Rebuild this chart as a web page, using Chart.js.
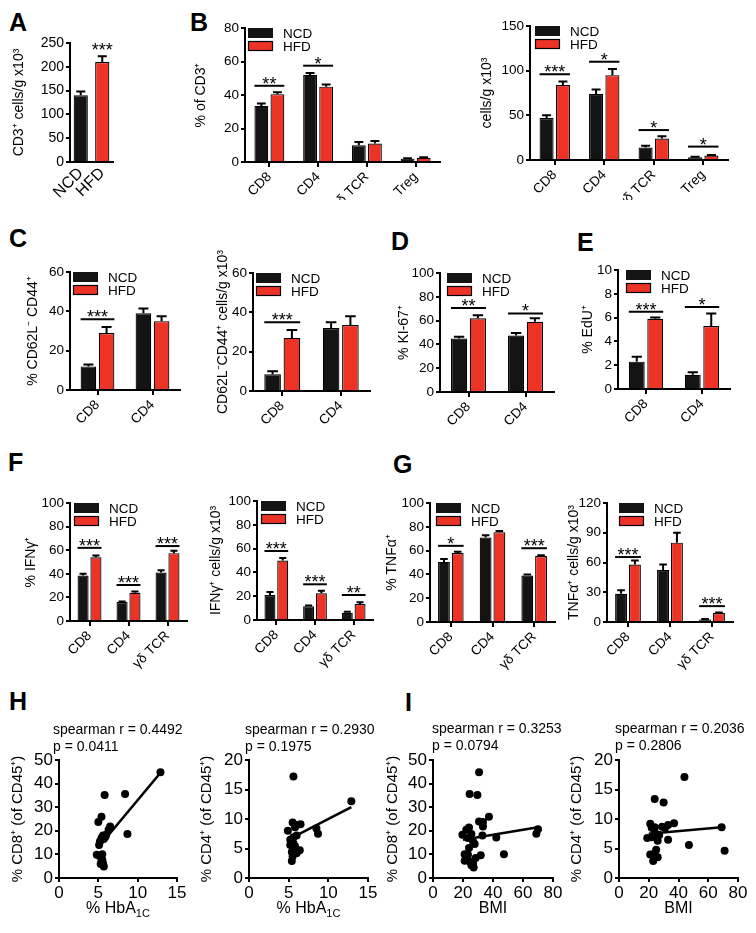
<!DOCTYPE html>
<html>
<head>
<meta charset="utf-8">
<script src="https://cdn.jsdelivr.net/npm/chart.js@4.4.0/dist/chart.umd.min.js"></script>
<style>
body { margin: 0; background: #fff; width: 756px; height: 933px; position: relative; overflow: hidden;
       font-family: "Liberation Sans", Arial, Helvetica, sans-serif; color: #000; }
canvas { position: absolute; }
.lbl { position: absolute; font-weight: bold; font-size: 25px; line-height: 1; }
.note { position: absolute; font-size: 14px; line-height: 17px; white-space: nowrap; }
</style>
</head>
<body>
<div class="lbl" style="left:9px;top:10px">A</div>
<div class="lbl" style="left:190px;top:10px">B</div>
<div class="lbl" style="left:9px;top:226px">C</div>
<div class="lbl" style="left:391px;top:229px">D</div>
<div class="lbl" style="left:577px;top:230px">E</div>
<div class="lbl" style="left:8px;top:450px">F</div>
<div class="lbl" style="left:393px;top:452px">G</div>
<div class="lbl" style="left:9px;top:689px">H</div>
<div class="lbl" style="left:405px;top:690px">I</div>

<script>
const FONT = '"Liberation Sans", Arial, Helvetica, sans-serif';
const BLACK = '#141414';
const RED = '#ec3326';

// categories
const groups = ["NCD", "HFD"];
const cells4 = ["CD8", "CD4", "γδ TCR", "Treg"];
const cells3 = ["CD8", "CD4", "γδ TCR"];
const cells2 = ["CD8", "CD4"];

// A: CD3+ cells/g x10^3
const aValues = [140, 210];
const aErr = [8, 12];
const aSig = [[1, 232, "***"]];

// B: % of CD3+ / cells per g
const bPctNcd = [33.5, 52, 10, 2];
const bPctNcdErr = [1.5, 1.2, 2, 0.3];
const bPctHfd = [40.5, 45, 11, 2.5];
const bPctHfdErr = [1.2, 1.3, 1.5, 0.4];
const bPctSig = [[0, 45.5, "**"], [1, 57.5, "*"]];

const bNumNcd = [47, 74, 14, 3];
const bNumNcdErr = [3, 5, 2, 0.5];
const bNumHfd = [84, 95, 24, 5];
const bNumHfdErr = [4, 7, 2.5, 0.6];
const bNumSig = [[0, 96, "***"], [1, 110, "*"], [2, 33.5, "*"], [3, 15, "*"]];

// C: CD62L- CD44+
const cPctNcd = [12, 39];
const cPctNcdErr = [1, 2.5];
const cPctHfd = [29, 35];
const cPctHfdErr = [3, 2.5];
const cPctSig = [[0, 36, "***"]];

const cNumNcd = [8.5, 32];
const cNumNcdErr = [1.5, 3];
const cNumHfd = [27, 33.5];
const cNumHfdErr = [4, 4.5];
const cNumSig = [[0, 35, "***"]];

// D: KI-67
const dNcd = [45, 47.5];
const dNcdErr = [1.5, 2];
const dHfd = [62, 59];
const dHfdErr = [2.5, 3];
const dSig = [[0, 70.5, "**"], [1, 66, "*"]];

// E: EdU
const eNcd = [2.3, 1.2];
const eNcdErr = [0.4, 0.2];
const eHfd = [5.9, 5.3];
const eHfdErr = [0.1, 1.05];
const eSig = [[0, 6.5, "***"], [1, 6.9, "*"]];

// F: IFNγ
const fPctNcd = [38.5, 16, 41];
const fPctNcdErr = [1.5, 0.6, 2];
const fPctHfd = [54, 24, 57.5];
const fPctHfdErr = [1.5, 1, 2];
const fPctSig = [[0, 62, "***"], [1, 30.5, "***"], [2, 63.5, "***"]];

const fNumNcd = [21, 11.5, 6];
const fNumNcdErr = [2.5, 0.6, 1];
const fNumHfd = [50, 22.5, 13.5];
const fNumHfdErr = [2, 2, 1.5];
const fNumSig = [[0, 58, "***"], [1, 30, "***"], [2, 21, "**"]];

// G: TNFα
const gPctNcd = [50.5, 71, 39];
const gPctNcdErr = [2.5, 2, 1];
const gPctHfd = [58, 75.5, 55.5];
const gPctHfdErr = [1, 1, 0.6];
const gPctSig = [[0, 64, "*"], [2, 62, "***"]];

const gNumNcd = [28.5, 52.5, 2.5];
const gNumNcdErr = [3.5, 5.5, 0.5];
const gNumHfd = [58, 80, 9];
const gNumHfdErr = [4, 10, 0.6];
const gNumSig = [[0, 65.5, "***"], [2, 16, "***"]];

// H: HbA1c vs % CD8 / % CD4
const hCd8 = [[12.9, 44.8], [5.8, 35.2], [8.4, 35.6], [5.4, 26], [5.0, 23.7], [6.5, 21.8], [6.3, 20.4],
  [8.7, 18.6], [5.6, 18], [6.0, 18.3], [5.4, 17], [5.2, 15.5], [5.1, 14], [4.8, 9.9], [5.2, 9.2],
  [5.5, 10.1], [5.4, 7], [5.6, 6.3], [5.3, 5.9], [5.7, 4.9], [5.5, 7.7], [5.9, 17.5], [5.7, 16.5]];
const hCd8Fit = [[4.9, 12.6], [12.9, 44.6]];
const hCd8Stats = ["0.4492", "0.0411"];

const hCd4 = [[5.6, 17.2], [12.9, 13], [5.5, 9.4], [6.0, 9.0], [6.5, 9.1], [4.9, 8.0], [8.5, 8.4],
  [8.7, 7.5], [6.0, 7.2], [5.6, 6.9], [5.2, 6.5], [5.6, 5.9], [5.2, 5.6], [5.8, 5.4], [6.4, 4.7],
  [5.4, 4.4], [6.0, 4.2], [5.5, 3.7], [5.4, 2.9], [5.8, 8.6], [5.3, 6.2]];
const hCd4Fit = [[5.5, 6.9], [12.9, 12.0]];
const hCd4Stats = ["0.2930", "0.1975"];

// I: BMI vs % CD8 / % CD4
const iCd8 = [[30.7, 44.8], [24.4, 35.6], [29.6, 35.2], [37.3, 26], [30.7, 23.9], [33.3, 23.7],
  [33.3, 21.8], [24, 21.4], [22.2, 20.4], [70, 20.7], [68.9, 18.7], [19.6, 18.3], [25.6, 18.6],
  [32.9, 18], [42.2, 17.2], [23.3, 16.9], [26.7, 15.5], [27.8, 14.4], [24, 12.7], [21.1, 10.1],
  [23.3, 9.9], [31.8, 9.6], [47.3, 10.1], [21.1, 7.3], [24.4, 7], [26.7, 6.3], [25.6, 5.4],
  [27.1, 4.5], [28.4, 8.5]];
const iCd8Fit = [[20, 16.2], [71, 21.6]];
const iCd8Stats = ["0.3253", "0.0794"];

const iCd4 = [[44, 17.1], [24, 13.4], [30, 12.8], [21, 9.2], [24, 8.6], [37, 9.3], [33, 9.0],
  [29, 8.7], [31, 8.5], [69, 8.6], [19, 6.8], [22, 6.9], [25, 7.2], [27, 7.3], [24, 7.8], [26, 6.3],
  [33, 6.5], [47, 5.6], [71, 4.6], [21, 4.0], [24, 4.2], [25, 4.8], [26, 3.5], [23, 2.9], [22, 8.5]];
const iCd4Fit = [[20, 7.5], [69, 8.6]];
const iCd4Stats = ["0.2036", "0.2806"];

Chart.defaults.font.family = FONT;
Chart.defaults.color = '#000';

// canvas placed so that the plot area lands on box = [left, top, right, bottom]
function place(box, tx, titleSize, hx, padTop, padRight) {
  const left = Math.round(tx - titleSize * 0.6);
  const top = box[1] - padTop;
  const w = Math.round(box[2] - left + padRight);
  const h = Math.round(box[3] - box[1] + padTop + hx);
  const c = document.createElement('canvas');
  c.width = w; c.height = h;
  c.style.left = left + 'px'; c.style.top = top + 'px';
  c.style.width = w + 'px'; c.style.height = h + 'px';
  document.body.appendChild(c);
  return { canvas: c, wy: box[0] - left };
}

function yAxis(wy, max, step, title, tickSize, titleSize) {
  return {
    min: 0, max: max,
    ticks: { stepSize: step, color: '#000', font: { size: tickSize }, padding: 2 },
    grid: { drawOnChartArea: false, drawTicks: true, tickLength: 4, color: '#000', lineWidth: 2 },
    border: { display: true, color: '#000', width: 2 },
    title: { display: true, text: title, color: '#000', font: { size: titleSize }, padding: 0 },
    afterFit(s) { s.width = wy; s.paddingTop = 0; s.paddingBottom = 0; }
  };
}

function barExtras(s) {
  return {
    id: 'barExtras',
    afterDatasetsDraw(chart) {
      const ctx = chart.ctx, y = chart.scales.y;
      ctx.save();
      ctx.strokeStyle = '#000'; ctx.fillStyle = '#000'; ctx.lineWidth = 2;
      // SEM bars, upward only
      s.sets.forEach((d, di) => {
        chart.getDatasetMeta(di).data.forEach((bar, i) => {
          const top = y.getPixelForValue(d.data[i] + d.err[i]);
          const half = bar.width * 0.32;
          ctx.beginPath();
          ctx.moveTo(bar.x, bar.y); ctx.lineTo(bar.x, top);
          ctx.moveTo(bar.x - half, top); ctx.lineTo(bar.x + half, top);
          ctx.stroke();
        });
      });
      // significance
      const last = s.sets.length - 1;
      s.sig.forEach(([i, v, txt]) => {
        const b0 = chart.getDatasetMeta(0).data[i];
        const b1 = chart.getDatasetMeta(last).data[i];
        const py = y.getPixelForValue(v);
        const xl = b0.x - b0.width / 2, xr = b1.x + b1.width / 2;
        if (s.lines !== false) {
          ctx.beginPath(); ctx.moveTo(xl, py); ctx.lineTo(xr, py); ctx.stroke();
        }
        ctx.font = '18px ' + FONT;
        ctx.textAlign = 'center'; ctx.textBaseline = 'alphabetic';
        ctx.fillText(txt, (xl + xr) / 2, py + 4);
      });
      // legend in the plot corner
      if (s.legendX != null) {
        const { left, top } = chart.chartArea;
        const lx = left + s.legendX;
        ctx.fillStyle = BLACK; ctx.fillRect(lx, top, 25, 10);
        ctx.fillStyle = RED; ctx.fillRect(lx, top + 13, 25, 10);
        ctx.lineWidth = 1.2; ctx.strokeRect(lx + 0.5, top + 13.5, 24, 9);
        ctx.fillStyle = '#000'; ctx.font = '13.5px ' + FONT;
        ctx.textAlign = 'left';
        ctx.fillText(groups[0], lx + 35, top + 10);
        ctx.fillText(groups[1], lx + 35, top + 23);
      }
      ctx.restore();
    }
  };
}

function barChart(s) {
  const hx = s.hx || 45;
  const padTop = 50;
  const { canvas, wy } = place(s.box, s.tx, 14, hx, padTop, 8);
  const datasets = s.sets.map(d => ({
    data: d.data,
    backgroundColor: d.color,
    borderColor: '#000',
    borderWidth: 1.2,
    barPercentage: s.barPct || 0.86,
    categoryPercentage: s.catPct || 0.66
  }));
  new Chart(canvas, {
    type: 'bar',
    data: { labels: s.cats, datasets: datasets },
    options: {
      responsive: false, animation: false, devicePixelRatio: 1,
      layout: { padding: { top: padTop, right: 8, left: 0, bottom: 0 } },
      plugins: { legend: { display: false }, tooltip: { enabled: false } },
      scales: {
        x: {
          ticks: { color: '#000', font: { size: s.catSize || 13.5 }, minRotation: 45, maxRotation: 45, autoSkip: false, padding: 2 },
          grid: { drawOnChartArea: false, offset: false, drawTicks: !s.noTicks, tickLength: 5, color: '#000', lineWidth: 2 },
          border: { display: true, color: '#000', width: 2 },
          afterFit(sc) { sc.height = hx; sc.paddingLeft = 0; sc.paddingRight = 0; }
        },
        y: yAxis(wy, s.yMax, s.step, s.title, s.tickSize || 13.5, 14)
      }
    },
    plugins: [barExtras(s)]
  });
}

function xTitle(text, sub) {
  return {
    id: 'xTitle',
    afterDraw(chart) {
      const ctx = chart.ctx, a = chart.chartArea;
      ctx.save();
      ctx.fillStyle = '#000'; ctx.textBaseline = 'alphabetic'; ctx.textAlign = 'left';
      ctx.font = '16px ' + FONT;
      const w1 = ctx.measureText(text).width;
      let w2 = 0;
      if (sub) { ctx.font = '11px ' + FONT; w2 = ctx.measureText(sub).width; }
      const x = (a.left + a.right) / 2 - (w1 + w2) / 2, yb = a.bottom + 35;
      ctx.font = '16px ' + FONT; ctx.fillText(text, x, yb);
      if (sub) { ctx.font = '11px ' + FONT; ctx.fillText(sub, x + w1, yb + 4); }
      ctx.restore();
    }
  };
}

function scatterChart(s) {
  const { canvas, wy } = place(s.box, s.tx, 15, 45, 14, 12);
  new Chart(canvas, {
    type: 'scatter',
    data: {
      datasets: [
        { data: s.points.map(p => ({ x: p[0], y: p[1] })), backgroundColor: '#000', borderColor: '#000',
          pointRadius: 4, borderWidth: 0 },
        { type: 'line', data: s.fit.map(p => ({ x: p[0], y: p[1] })), borderColor: '#000', borderWidth: 2.6,
          pointRadius: 0, showLine: true, fill: false }
      ]
    },
    options: {
      responsive: false, animation: false, devicePixelRatio: 1,
      layout: { padding: { top: 14, right: 12, left: 0, bottom: 0 } },
      plugins: { legend: { display: false }, tooltip: { enabled: false } },
      scales: {
        x: {
          type: 'linear', min: 0, max: s.xMax,
          ticks: { stepSize: s.xStep, color: '#000', font: { size: 17 }, padding: 1, maxRotation: 0 },
          grid: { drawOnChartArea: false, tickLength: 4, color: '#000', lineWidth: 2 },
          border: { display: true, color: '#000', width: 2 },
          afterFit(sc) { sc.height = 45; sc.paddingLeft = 0; sc.paddingRight = 0; }
        },
        y: yAxis(wy, s.yMax, s.yStep, s.title, 17, 15)
      }
    },
    plugins: [xTitle(s.xText, s.xSub)]
  });
  const n = document.createElement('div');
  n.className = 'note';
  n.style.left = s.note[0] + 'px'; n.style.top = s.note[1] + 'px';
  n.innerHTML = 'spearman r = ' + s.stats[0] + '<br>p = ' + s.stats[1];
  document.body.appendChild(n);
}

// A
barChart({ box: [70, 43, 113, 162], tx: 19, title: 'CD3⁺ cells/g x10³', cats: groups,
  sets: [{ data: aValues, err: aErr, color: [BLACK, RED] }], catSize: 16, tickSize: 14,
  catPct: 1, barPct: 0.66, yMax: 250, step: 50, sig: aSig, lines: false, noTicks: true });

// B
barChart({ box: [245, 28, 440, 162], tx: 201, hx: 38, title: '% of CD3⁺', cats: cells4,
  sets: [{ data: bPctNcd, err: bPctNcdErr, color: BLACK }, { data: bPctHfd, err: bPctHfdErr, color: RED }],
  yMax: 80, step: 20, sig: bPctSig, legendX: 3 });
barChart({ box: [530, 26, 728, 160], tx: 487, hx: 40, title: 'cells/g x10³', cats: cells4,
  sets: [{ data: bNumNcd, err: bNumNcdErr, color: BLACK }, { data: bNumHfd, err: bNumHfdErr, color: RED }],
  yMax: 150, step: 50, sig: bNumSig, legendX: 5 });

// C
barChart({ box: [70, 272, 180, 390], tx: 33, title: '% CD62L⁻ CD44⁺', cats: cells2,
  sets: [{ data: cPctNcd, err: cPctNcdErr, color: BLACK }, { data: cPctHfd, err: cPctHfdErr, color: RED }],
  yMax: 60, step: 20, sig: cPctSig, legendX: 3 });
barChart({ box: [253, 273, 370, 391], tx: 223, title: 'CD62L⁻CD44⁺ cells/g x10³', cats: cells2,
  sets: [{ data: cNumNcd, err: cNumNcdErr, color: BLACK }, { data: cNumHfd, err: cNumHfdErr, color: RED }],
  yMax: 60, step: 20, sig: cNumSig, legendX: 3 });

// D
barChart({ box: [440, 273, 554, 392], tx: 404, title: '% KI-67⁺', cats: cells2,
  sets: [{ data: dNcd, err: dNcdErr, color: BLACK }, { data: dHfd, err: dHfdErr, color: RED }],
  yMax: 100, step: 20, sig: dSig, legendX: 7 });

// E
barChart({ box: [618, 270, 730, 389], tx: 588, title: '% EdU⁺', cats: cells2,
  sets: [{ data: eNcd, err: eNcdErr, color: BLACK }, { data: eHfd, err: eHfdErr, color: RED }],
  yMax: 10, step: 2, sig: eSig, legendX: 8 });

// F
barChart({ box: [70, 503, 187, 621], tx: 31, hx: 55, title: '% IFNγ⁺', cats: cells3,
  sets: [{ data: fPctNcd, err: fPctNcdErr, color: BLACK }, { data: fPctHfd, err: fPctHfdErr, color: RED }],
  yMax: 100, step: 20, sig: fPctSig, legendX: 4 });
barChart({ box: [257, 501, 373, 620], tx: 216, hx: 55, title: 'IFNγ⁺ cells/g x10³', cats: cells3,
  sets: [{ data: fNumNcd, err: fNumNcdErr, color: BLACK }, { data: fNumHfd, err: fNumHfdErr, color: RED }],
  yMax: 100, step: 20, sig: fNumSig, legendX: 4 });

// G
barChart({ box: [430, 503, 555, 622], tx: 392, hx: 55, title: '% TNFα⁺', cats: cells3,
  sets: [{ data: gPctNcd, err: gPctNcdErr, color: BLACK }, { data: gPctHfd, err: gPctHfdErr, color: RED }],
  yMax: 100, step: 20, sig: gPctSig, legendX: 6 });
barChart({ box: [607, 503, 733, 622], tx: 574, hx: 55, title: 'TNFα⁺ cells/g x10³', cats: cells3,
  sets: [{ data: gNumNcd, err: gNumNcdErr, color: BLACK }, { data: gNumHfd, err: gNumHfdErr, color: RED }],
  yMax: 120, step: 30, sig: gNumSig, legendX: 12 });

// H
scatterChart({ box: [59, 760, 177, 878], tx: 18, title: '% CD8⁺ (of CD45⁺)', points: hCd8, fit: hCd8Fit,
  xMax: 15, xStep: 5, yMax: 50, yStep: 10, xText: '% HbA', xSub: '1C', stats: hCd8Stats, note: [53, 721] });
scatterChart({ box: [249, 760, 368, 878], tx: 207, title: '% CD4⁺ (of CD45⁺)', points: hCd4, fit: hCd4Fit,
  xMax: 15, xStep: 5, yMax: 20, yStep: 5, xText: '% HbA', xSub: '1C', stats: hCd4Stats, note: [245, 721] });

// I
scatterChart({ box: [433, 760, 553, 878], tx: 393, title: '% CD8⁺ (of CD45⁺)', points: iCd8, fit: iCd8Fit,
  xMax: 80, xStep: 20, yMax: 50, yStep: 10, xText: 'BMI', stats: iCd8Stats, note: [432, 720] });
scatterChart({ box: [619, 760, 738, 878], tx: 577, title: '% CD4⁺ (of CD45⁺)', points: iCd4, fit: iCd4Fit,
  xMax: 80, xStep: 20, yMax: 20, yStep: 5, xText: 'BMI', stats: iCd4Stats, note: [615, 720] });
</script>
</body>
</html>
